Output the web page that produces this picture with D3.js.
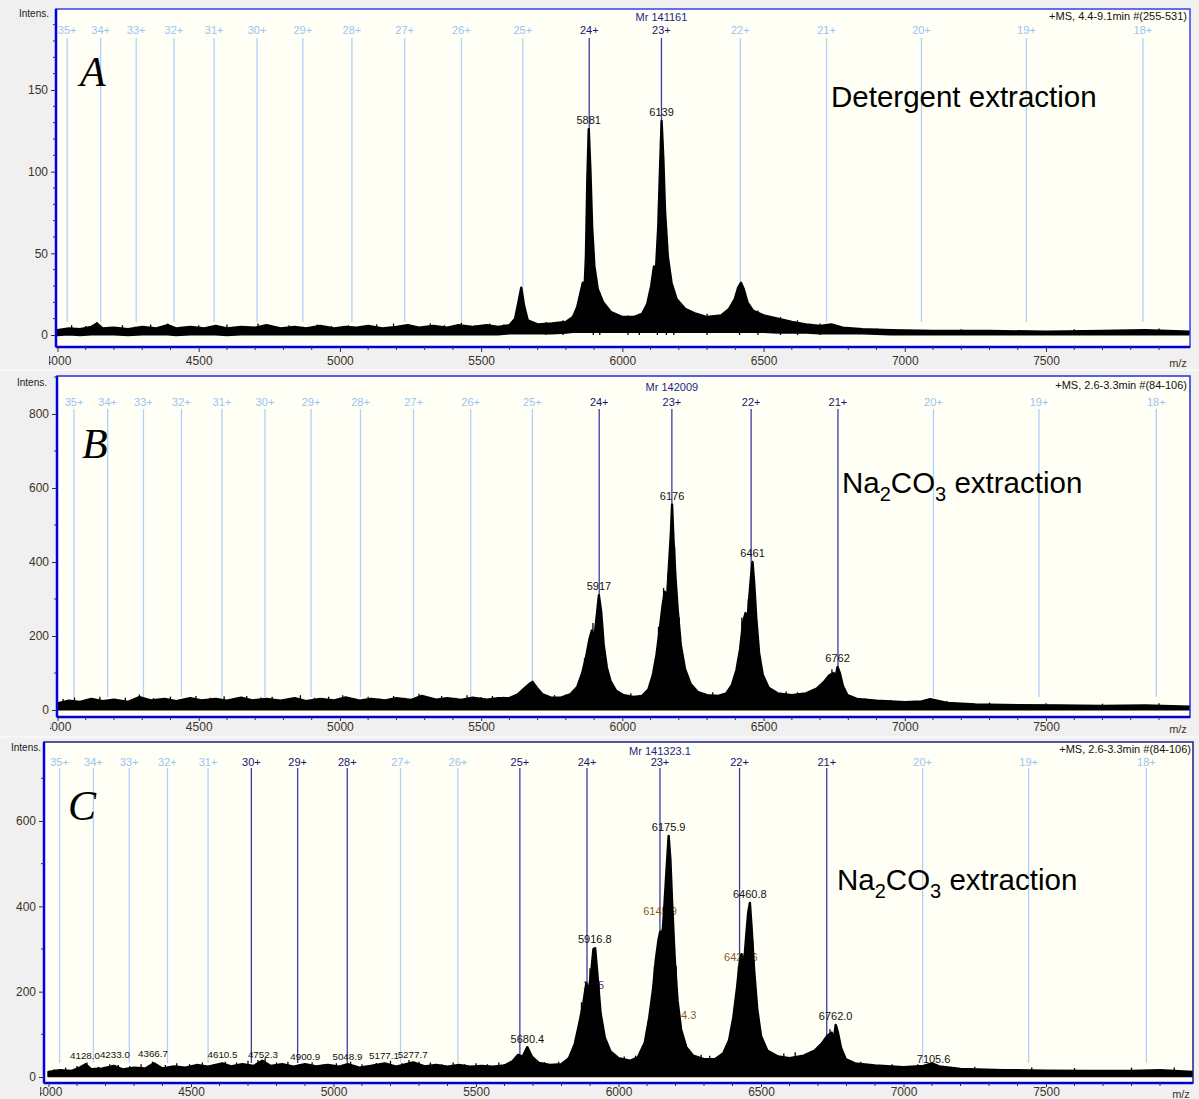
<!DOCTYPE html>
<html>
<head>
<meta charset="utf-8">
<script src="https://cdn.jsdelivr.net/npm/d3@7"></script>
<style>
  body { margin: 0; background: #f0f0f0; }
  svg { display: block; }
</style>
</head>
<body>
<script>

// charge states marked over every spectrum
const charges = [35, 34, 33, 32, 31, 30, 29, 28, 27, 26, 25, 24, 23, 22, 21, 20, 19, 18];
const proton = 1.00728;

const xTicks = [4000, 4500, 5000, 5500, 6000, 6500, 7000, 7500];

// panel A - detergent extraction
const mrA = 141161;
const darkA = [24, 23];
const headerA = "+MS, 4.4-9.1min #(255-531)";
const yTicksA = [0, 50, 100, 150];
// [m/z, low, high] envelope of the (noisy) trace
const specA = [
  [4000, 0, 3], [4040, 0.5, 4], [4080, 0, 3.5], [4120, 0.5, 5], [4140, 0.5, 7], [4160, 0.5, 4],
  [4200, 0.5, 4.5], [4250, 0, 3.5], [4300, 0.5, 5], [4350, 0.5, 4], [4390, 0.5, 6], [4420, 0, 4],
  [4470, 0.5, 5], [4520, 0.5, 4], [4560, 0.5, 5.5], [4600, 0, 4], [4650, 0.5, 5], [4700, 0.5, 4.5],
  [4740, 0.5, 6], [4790, 0.5, 4], [4840, 0.5, 5], [4880, 0.5, 4], [4930, 0.5, 5.5], [4980, 0.5, 4],
  [5020, 0.5, 5], [5060, 0.5, 4.5], [5100, 0.5, 5.5], [5150, 0.5, 4], [5200, 0.5, 5], [5240, 0.5, 6],
  [5280, 0.5, 4.5], [5330, 0.5, 5.5], [5380, 0.5, 4.5], [5420, 0.5, 6], [5470, 0.5, 5], [5520, 0.5, 6],
  [5560, 0.5, 5], [5600, 1, 6], [5620, 1, 10], [5632, 1, 20], [5642, 1, 29], [5652, 1, 18], [5665, 1, 9],
  [5700, 1, 6.5], [5750, 1, 7], [5800, 1.5, 8], [5825, 2, 11], [5840, 2, 17], [5852, 2, 26], [5860, 2, 32],
  [5866, 2, 28], [5871, 2, 48], [5876, 2, 95], [5881, 2, 126], [5887, 2, 100], [5893, 2, 66], [5901, 2, 42],
  [5913, 2, 28], [5932, 2, 20], [5960, 2, 14], [6000, 2, 11], [6040, 2, 11], [6070, 2, 13], [6088, 2, 19],
  [6102, 2, 30], [6112, 2, 42], [6119, 2, 40], [6127, 2, 66], [6134, 2, 105], [6139, 2, 131], [6145, 2, 108],
  [6151, 2, 76], [6161, 2, 48], [6174, 2, 32], [6192, 2, 22], [6222, 2, 16], [6260, 2, 13], [6300, 2, 11],
  [6350, 2, 12], [6378, 2, 16], [6398, 2, 22], [6410, 2, 29], [6420, 2, 32], [6430, 2, 28], [6443, 2, 20],
  [6462, 2, 15], [6500, 2, 12], [6550, 1.5, 10], [6600, 1.5, 8], [6650, 1.5, 6.5], [6700, 1, 5.5],
  [6740, 1, 6.5], [6780, 1, 4.5], [6850, 1, 3.5], [6950, 0.5, 3], [7100, 0.5, 2.5], [7300, 0.5, 2.5],
  [7500, 0.5, 2], [7700, 0.5, 2.5], [7850, 0.5, 3], [8010, 0.5, 2]
];
// [m/z, height] single noise spikes
const spikesA = [
  [4050, 6], [4100, 5.5], [4140, 8], [4185, 5], [4230, 6], [4275, 5], [4330, 6.5], [4390, 7], [4440, 5],
  [4500, 6], [4545, 5.5], [4600, 6.5], [4660, 5], [4710, 7], [4760, 5.5], [4820, 6], [4870, 5], [4920, 6.5],
  [4970, 5.5], [5030, 6], [5080, 5], [5130, 6.5], [5190, 7], [5230, 6], [5270, 5.5], [5320, 7], [5370, 6],
  [5430, 7.5], [5480, 6], [5530, 7], [5580, 6.5], [5730, 8], [5790, 9], [5897, 55], [5920, 26], [6020, 12],
  [6060, 13], [6124, 50], [6156, 62], [6182, 26], [6300, 13], [6415, 31], [6480, 15], [6560, 11], [6620, 9],
  [6700, 7], [6900, 4], [7200, 3.5], [7600, 3.5], [7900, 4]
];
// [m/z, intensity, label]
const peaksA = [[5881, 126, "5881"], [6139, 131, "6139"]];

// panel B - Na2CO3 extraction
const mrB = 142009;
const darkB = [24, 23, 22, 21];
const headerB = "+MS, 2.6-3.3min #(84-106)";
const yTicksB = [0, 200, 400, 600, 800];
const specB = [
  [4000, 2, 18], [4040, 2, 25], [4080, 2, 22], [4120, 2, 30], [4160, 2, 24], [4200, 2, 28], [4250, 2, 22],
  [4290, 2, 35], [4330, 2, 26], [4380, 2, 30], [4420, 2, 24], [4470, 2, 32], [4510, 2, 26], [4560, 2, 30],
  [4600, 2, 25], [4650, 2, 33], [4690, 2, 26], [4740, 2, 30], [4790, 2, 25], [4840, 2, 32], [4880, 2, 24],
  [4930, 2, 30], [4980, 2, 26], [5020, 2, 34], [5070, 2, 25], [5110, 2, 30], [5160, 2, 26], [5200, 2, 32],
  [5250, 2, 27], [5290, 2, 38], [5340, 2, 28], [5380, 2, 32], [5430, 2, 27], [5470, 2, 33], [5520, 2, 28],
  [5560, 2, 32], [5600, 2, 32], [5630, 2, 42], [5652, 2, 58], [5670, 2, 70], [5682, 2, 76], [5697, 2, 60],
  [5718, 2, 42], [5745, 2, 34], [5780, 2, 33], [5815, 2, 42], [5840, 2, 62], [5858, 2, 100], [5872, 2, 145],
  [5883, 2, 190], [5892, 2, 215], [5900, 2, 190], [5908, 2, 245], [5917, 2, 310], [5925, 2, 265],
  [5934, 2, 175], [5945, 2, 115], [5958, 2, 78], [5978, 2, 52], [6005, 2, 40], [6040, 2, 35], [6070, 2, 38],
  [6092, 2, 55], [6108, 2, 95], [6121, 2, 150], [6132, 2, 215], [6142, 2, 280], [6150, 2, 320],
  [6158, 2, 300], [6165, 2, 390], [6172, 2, 480], [6176, 2, 555], [6181, 2, 460], [6188, 2, 360],
  [6196, 2, 270], [6207, 2, 175], [6222, 2, 110], [6242, 2, 70], [6268, 2, 48], [6300, 2, 40], [6340, 2, 38],
  [6368, 2, 45], [6388, 2, 68], [6404, 2, 108], [6417, 2, 165], [6427, 2, 235], [6436, 2, 262],
  [6443, 2, 245], [6450, 2, 310], [6456, 2, 365], [6461, 2, 400], [6467, 2, 340], [6474, 2, 250],
  [6484, 2, 155], [6497, 2, 95], [6518, 2, 60], [6550, 2, 45], [6600, 2, 40], [6650, 2, 45], [6688, 2, 58],
  [6713, 2, 75], [6733, 2, 94], [6748, 2, 100], [6755, 2, 90], [6762, 2, 116], [6770, 2, 100],
  [6781, 2, 65], [6797, 2, 40], [6830, 2, 30], [6900, 2, 25], [7000, 2, 21], [7060, 2, 23], [7090, 2, 29],
  [7110, 2, 26], [7150, 2, 19], [7250, 2, 15], [7400, 2, 13], [7550, 2, 12], [7700, 2, 11], [7850, 2, 12],
  [8010, 2, 9]
];
const spikesB = [
  [4020, 30], [4060, 34], [4100, 28], [4150, 36], [4190, 30], [4240, 33], [4290, 42], [4340, 32], [4400, 36],
  [4450, 30], [4490, 38], [4540, 33], [4590, 37], [4630, 30], [4670, 38], [4720, 34], [4760, 36], [4810, 30],
  [4860, 40], [4910, 33], [4960, 36], [5010, 40], [5050, 32], [5100, 36], [5140, 31], [5190, 38], [5230, 33],
  [5280, 44], [5320, 35], [5360, 38], [5410, 33], [5450, 40], [5500, 35], [5540, 38], [5580, 36], [5760, 40],
  [5800, 42], [5866, 140], [5896, 235], [5929, 230], [6030, 45], [6128, 225], [6146, 330], [6162, 370],
  [6185, 440], [6201, 250], [6320, 48], [6423, 250], [6446, 300], [6470, 310], [6580, 50], [6620, 48],
  [6742, 110], [6766, 112], [6860, 32], [6950, 27], [7150, 24], [7300, 20], [7500, 18], [7700, 17], [7900, 18]
];
const peaksB = [[5917, 310, "5917"], [6176, 555, "6176"], [6461, 400, "6461"], [6762, 116, "6762"]];

// panel C - Na2CO3 extraction, deconvoluted
const mrC = 141323.1;
const darkC = [30, 29, 28, 25, 24, 23, 22, 21];
const headerC = "+MS, 2.6-3.3min #(84-106)";
const yTicksC = [0, 200, 400, 600];
const specC = [
  [4000, 2, 12], [4040, 2, 16], [4080, 2, 14], [4110, 2, 22], [4130, 2, 30], [4150, 2, 18], [4190, 2, 20],
  [4230, 2, 26], [4260, 2, 18], [4300, 2, 22], [4340, 2, 20], [4370, 2, 32], [4400, 2, 20], [4440, 2, 25],
  [4480, 2, 22], [4520, 2, 28], [4560, 2, 24], [4610, 2, 32], [4640, 2, 25], [4680, 2, 30], [4720, 2, 26],
  [4750, 2, 38], [4780, 2, 26], [4820, 2, 30], [4860, 2, 24], [4900, 2, 30], [4940, 2, 25], [4980, 2, 28],
  [5020, 2, 24], [5050, 2, 30], [5090, 2, 22], [5130, 2, 26], [5180, 2, 32], [5220, 2, 24], [5280, 2, 34],
  [5320, 2, 25], [5360, 2, 28], [5400, 2, 24], [5440, 2, 28], [5480, 2, 24], [5520, 2, 26], [5560, 2, 24],
  [5600, 2, 27], [5628, 2, 37], [5648, 2, 52], [5664, 2, 48], [5680, 2, 70], [5696, 2, 48], [5720, 2, 33],
  [5760, 2, 28], [5800, 2, 30], [5826, 2, 44], [5846, 2, 76], [5862, 2, 125], [5876, 2, 170],
  [5887, 2, 220], [5895, 2, 200], [5905, 2, 250], [5912, 2, 300], [5918, 2, 302], [5926, 2, 240],
  [5937, 2, 150], [5952, 2, 92], [5972, 2, 60], [6000, 2, 44], [6040, 2, 38], [6068, 2, 46], [6092, 2, 80],
  [6108, 2, 140], [6121, 2, 205], [6131, 2, 275], [6140, 2, 320], [6146, 2, 340], [6152, 2, 310],
  [6160, 2, 390], [6168, 2, 480], [6176, 2, 565], [6182, 2, 510], [6188, 2, 410], [6197, 2, 280],
  [6207, 2, 180], [6220, 2, 110], [6238, 2, 70], [6262, 2, 50], [6300, 2, 42], [6340, 2, 42], [6368, 2, 56],
  [6388, 2, 86], [6403, 2, 140], [6416, 2, 210], [6425, 2, 268], [6432, 2, 288], [6440, 2, 260],
  [6448, 2, 330], [6455, 2, 385], [6461, 2, 408], [6467, 2, 350], [6476, 2, 250], [6487, 2, 158],
  [6500, 2, 96], [6522, 2, 62], [6560, 2, 48], [6600, 2, 44], [6650, 2, 50], [6688, 2, 62], [6713, 2, 78],
  [6733, 2, 97], [6748, 2, 104], [6755, 2, 86], [6762, 2, 122], [6770, 2, 104], [6781, 2, 68],
  [6797, 2, 42], [6830, 2, 32], [6900, 2, 27], [7000, 2, 23], [7070, 2, 26], [7100, 2, 32], [7125, 2, 25],
  [7200, 2, 19], [7350, 2, 16], [7500, 2, 15], [7650, 2, 14], [7800, 2, 14], [7900, 2, 16], [8016, 2, 12]
];
const spikesC = [
  [4020, 18], [4060, 22], [4100, 26], [4135, 34], [4175, 24], [4215, 30], [4245, 28], [4285, 26], [4325, 30],
  [4365, 36], [4410, 28], [4450, 32], [4495, 30], [4540, 34], [4580, 30], [4620, 36], [4660, 34], [4700, 38],
  [4735, 40], [4760, 44], [4800, 34], [4840, 36], [4880, 30], [4925, 34], [4965, 30], [5010, 32], [5060, 36],
  [5100, 30], [5150, 33], [5200, 38], [5240, 32], [5265, 40], [5300, 36], [5340, 34], [5380, 30], [5420, 34],
  [5460, 30], [5500, 32], [5540, 30], [5580, 34], [5740, 35], [5790, 36], [5870, 175], [5900, 255],
  [5931, 220], [6020, 48], [6060, 50], [6126, 260], [6150, 345], [6163, 430], [6185, 470], [6202, 260],
  [6290, 52], [6320, 50], [6421, 260], [6444, 300], [6471, 320], [6580, 55], [6620, 58], [6742, 112],
  [6766, 118], [6850, 36], [6960, 30], [7050, 30], [7250, 24], [7450, 22], [7600, 21], [7800, 22], [7950, 22]
];
const peaksC = [
  [5680.4, 68, "5680.4"], [5916.8, 302, "5916.8"], [6175.9, 565, "6175.9"], [6460.8, 408, "6460.8"],
  [6762.0, 122, "6762.0"], [7105.6, 20, "7105.6"]
];
// small labelled peaks in the baseline of C
const lowC = [
  [4128.0, 30, "4128.0"], [4233.0, 33, "4233.0"], [4366.7, 36, "4366.7"], [4610.5, 33, "4610.5"],
  [4752.3, 33, "4752.3"], [4900.9, 28, "4900.9"], [5048.9, 28, "5048.9"], [5177.1, 31, "5177.1"],
  [5277.7, 33, "5277.7"]
];
// secondary (coloured) annotations of panel C
const minorC = [[6145.9, 372, "6145.9"], [6429.6, 264, "6429.6"], [6214.3, 130, "6214.3"]];
const purpleC = [[5912, 200, "19.5"]];

const W = 1199, H = 1099;
const sans = "'Liberation Sans', Arial, sans-serif";

const svg = d3.select("body").append("svg")
    .attr("width", W)
    .attr("height", H);

svg.append("rect").attr("width", W).attr("height", H).attr("fill", "#f0f0f0");

// layout of the three stacked panels
const panels = [
    { key: "A", mr: mrA, mrText: "Mr 141161", dark: darkA, header: headerA, yTicks: yTicksA, yMinor: 10,
      spec: specA, spikes: spikesA, peaks: peaksA, low: [], left: 56, right: 1190, top: 9, bottom: 347,
      xr: [57.5, 1046], yd: [0, 150], yr: [335, 90], floor: 8, chargeY: 34, lineTop: 38,
      mrY: 21, headY: 20, headX: 1187, intensX: 34, intensY: 17, pad: 4, tick: 5, cut: 7,
      frame: "#3c3cf0", note: "Detergent extraction", noteX: 831, noteY: 107, letterX: 80, letterY: 86 },
    { key: "B", mr: mrB, mrText: "Mr 142009", dark: darkB, header: headerB, yTicks: yTicksB, yMinor: 100,
      spec: specB, spikes: spikesB, peaks: peaksB, low: [], left: 57, right: 1190, top: 376, bottom: 717,
      xr: [57.5, 1046], yd: [0, 800], yr: [710, 414], floor: 35, chargeY: 406, lineTop: 409,
      mrY: 391, headY: 389, headX: 1187, intensX: 32, intensY: 386, pad: 1, tick: 4, cut: 7,
      frame: "#2a2ad8", note: "sub", noteX: 842, noteY: 493, letterX: 82, letterY: 458 },
    { key: "C", mr: mrC, mrText: "Mr 141323.1", dark: darkC, header: headerC, yTicks: yTicksC, yMinor: 100,
      spec: specC, spikes: spikesC, peaks: peaksC, low: lowC, left: 44, right: 1193, top: 742, bottom: 1083,
      xr: [48.5, 1046], yd: [0, 600], yr: [1077, 821], floor: 33, chargeY: 766, lineTop: 768,
      mrY: 755, headY: 753, headX: 1191, intensX: 26, intensY: 751, pad: 0, tick: 4, cut: 4,
      frame: "#1e1e8a", note: "sub", noteX: 837, noteY: 890, letterX: 68, letterY: 820 }
];

// thin separators between panels
[370, 737].forEach(y => {
    svg.append("line").attr("x1", 0).attr("x2", W).attr("y1", y).attr("y2", y)
        .attr("stroke", "#fafafa").attr("stroke-width", 1.5);
});

panels.forEach(p => {
    const x = d3.scaleLinear().domain([4000, 7500]).range(p.xr);
    const y = d3.scaleLinear().domain(p.yd).range(p.yr);
    const g = svg.append("g").attr("class", "panel-" + p.key);

    const clipId = "clip" + p.key;
    svg.append("clipPath").attr("id", clipId)
        .append("rect")
        .attr("x", p.left).attr("y", p.top)
        .attr("width", p.right - p.left).attr("height", p.bottom - p.top);

    // plot background
    g.append("rect")
        .attr("x", p.left).attr("y", p.top)
        .attr("width", p.right - p.left).attr("height", p.bottom - p.top)
        .attr("fill", "#fffff6");

    const plot = g.append("g").attr("clip-path", `url(#${clipId})`);

    // charge state markers
    const marks = charges.map(z => ({ z, mz: (p.mr + z * proton) / z, dark: p.dark.includes(z) }));
    plot.selectAll("line.charge")
        .data(marks)
        .join("line")
        .attr("class", "charge")
        .attr("x1", d => x(d.mz)).attr("x2", d => x(d.mz))
        .attr("y1", p.lineTop).attr("y2", y(p.floor))
        .attr("stroke", d => d.dark ? "#3c3ca0" : "#aed2f8")
        .attr("stroke-width", 1.3);

    plot.selectAll("text.charge")
        .data(marks)
        .join("text")
        .attr("class", "charge")
        .attr("x", d => x(d.mz)).attr("y", p.chargeY)
        .attr("text-anchor", "middle")
        .style("font-family", sans)
        .style("font-size", "11px")
        .attr("fill", d => d.dark ? "#141470" : "#98c4f2")
        .text(d => d.z + "+");

    // Mr and acquisition info
    g.append("text")
        .attr("x", x((p.mr + 23 * proton) / 23)).attr("y", p.mrY)
        .attr("text-anchor", "middle")
        .style("font-family", sans).style("font-size", "11px")
        .attr("fill", "#1e1e80")
        .text(p.mrText);
    g.append("text")
        .attr("x", p.headX).attr("y", p.headY)
        .attr("text-anchor", "end")
        .style("font-family", sans).style("font-size", "11px")
        .attr("fill", "#111")
        .text(p.header);

    // coloured annotations sit below the trace in C
    if (p.key === "C") {
        plot.selectAll("text.minor")
            .data(minorC)
            .join("text")
            .attr("x", d => x(d[0])).attr("y", d => y(d[1]) - 3)
            .attr("text-anchor", "middle")
            .style("font-family", sans).style("font-size", "11px")
            .attr("fill", "#8c5a1e")
            .text(d => d[2]);
        plot.selectAll("text.purple")
            .data(purpleC)
            .join("text")
            .attr("x", d => x(d[0])).attr("y", d => y(d[1]) - 3)
            .attr("text-anchor", "middle")
            .style("font-family", sans).style("font-size", "11px")
            .attr("fill", "#6a2a8a")
            .text(d => d[2]);
    }

    // spectrum: filled envelope plus single noise spikes
    const area = d3.area()
        .x(d => x(d[0]))
        .y0(d => y(d[1]))
        .y1(d => y(d[2]));
    plot.append("path")
        .datum(p.spec)
        .attr("d", area)
        .attr("fill", "#000")
        .attr("stroke", "#000")
        .attr("stroke-width", 2.4)
        .attr("stroke-linejoin", "round");
    plot.selectAll("line.spike")
        .data(p.spikes)
        .join("line")
        .attr("class", "spike")
        .attr("x1", d => x(d[0])).attr("x2", d => x(d[0]))
        .attr("y1", y(0)).attr("y2", d => y(d[1]))
        .attr("stroke", "#000")
        .attr("stroke-width", 1.3);

    // peak labels
    plot.selectAll("text.peak")
        .data(p.peaks)
        .join("text")
        .attr("class", "peak")
        .attr("x", d => x(d[0])).attr("y", d => y(d[1]) - 5)
        .attr("text-anchor", "middle")
        .style("font-family", sans).style("font-size", "11px")
        .attr("fill", "#111")
        .text(d => d[2]);
    plot.selectAll("text.low")
        .data(p.low)
        .join("text")
        .attr("class", "low")
        .attr("x", d => x(d[0])).attr("y", d => y(d[1]) - 5)
        .attr("text-anchor", "middle")
        .style("font-family", sans).style("font-size", "9.8px")
        .attr("fill", "#111")
        .text(d => d[2]);

    // frame
    g.append("rect")
        .attr("x", p.left).attr("y", p.top)
        .attr("width", p.right - p.left).attr("height", p.bottom - p.top)
        .attr("fill", "none")
        .attr("stroke", p.frame).attr("stroke-width", 1.5);

    // y axis
    const yAxis = d3.axisLeft(y).tickValues(p.yTicks).tickSize(5).tickPadding(3).tickFormat(d3.format("d"));
    const ya = g.append("g").attr("transform", `translate(${p.left},0)`).call(yAxis);
    ya.select(".domain").attr("stroke", "#0000e6").attr("stroke-width", 2.5)
        .attr("d", `M0,${p.top}V${p.bottom}`);
    ya.selectAll(".tick line").attr("stroke", "#333");
    ya.selectAll(".tick text").style("font-family", sans).style("font-size", "12px").attr("fill", "#3a3328");
    const yMax = y.invert(p.top);
    const yMinorVals = d3.range(0, yMax, p.yMinor).filter(v => !p.yTicks.includes(v));
    ya.selectAll("line.minor")
        .data(yMinorVals)
        .join("line")
        .attr("x1", -3).attr("x2", 0)
        .attr("y1", d => y(d)).attr("y2", d => y(d))
        .attr("stroke", "#333");

    g.append("text")
        .attr("x", p.intensX).attr("y", p.intensY)
        .attr("text-anchor", "middle")
        .style("font-family", sans).style("font-size", "10px")
        .attr("fill", "#222")
        .text("Intens.");

    // x axis (the first label is cut by the axis area, as in the instrument export)
    const xClip = "xclip" + p.key;
    svg.append("clipPath").attr("id", xClip)
        .append("rect")
        .attr("x", p.left - p.cut).attr("y", -2)
        .attr("width", W).attr("height", 40);
    const xAxis = d3.axisBottom(x).tickValues(xTicks).tickSize(p.tick).tickPadding(p.pad).tickFormat(d3.format("d"));
    const xa = g.append("g")
        .attr("transform", `translate(0,${p.bottom})`)
        .attr("clip-path", `url(#${xClip})`)
        .call(xAxis);
    xa.select(".domain").attr("stroke", "#0000d0").attr("stroke-width", 2.5)
        .attr("d", `M${p.left},0H${p.right}`);
    xa.selectAll(".tick line").attr("stroke", "#333");
    xa.selectAll(".tick text").style("font-family", sans).style("font-size", "12px").attr("fill", "#3a3328");
    const xMax = x.invert(p.right);
    const xMinorVals = d3.range(4100, xMax, 100).filter(v => v % 500 !== 0);
    xa.selectAll("line.minor")
        .data(xMinorVals)
        .join("line")
        .attr("x1", d => x(d)).attr("x2", d => x(d))
        .attr("y1", 0).attr("y2", 3)
        .attr("stroke", "#333");
    g.append("text")
        .attr("x", p.right - 12).attr("y", p.bottom + p.tick + p.pad + 11)
        .attr("text-anchor", "middle")
        .style("font-family", sans).style("font-size", "11px")
        .attr("fill", "#3a3328")
        .text("m/z");

    // panel letter
    g.append("text")
        .attr("x", p.letterX).attr("y", p.letterY)
        .style("font-family", "'Liberation Serif', 'Times New Roman', serif")
        .style("font-style", "italic")
        .style("font-size", "42px")
        .attr("fill", "#000")
        .text(p.key);

    // annotation
    const note = g.append("text")
        .attr("x", p.noteX).attr("y", p.noteY)
        .style("font-family", sans).style("font-size", "29.5px")
        .attr("fill", "#000");
    if (p.note === "sub") {
        note.append("tspan").text("Na");
        note.append("tspan").attr("dy", 8).style("font-size", "20px").text("2");
        note.append("tspan").attr("dy", -8).text("CO");
        note.append("tspan").attr("dy", 8).style("font-size", "20px").text("3");
        note.append("tspan").attr("dy", -8).text(" extraction");
    } else {
        note.text(p.note);
    }
});

</script>
</body>
</html>
